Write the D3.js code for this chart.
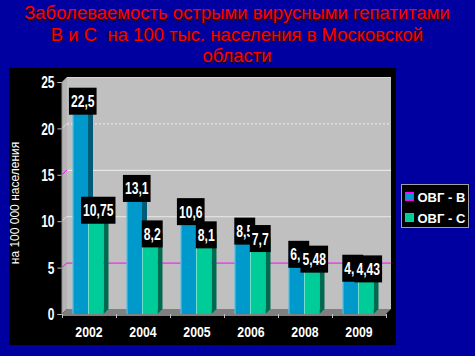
<!DOCTYPE html>
<html>
<head>
<meta charset="utf-8">
<script src="https://cdn.jsdelivr.net/npm/d3@7/dist/d3.min.js"></script>
<style>
  html, body { margin: 0; padding: 0; background: #0000a0; }
  svg { display: block; }
  .title text { white-space: pre; }
</style>
</head>
<body>
<script>
const years = ["2002", "2004", "2005", "2006", "2008", "2009"];
const hepB = [22.5, 13.1, 10.6, 8.5, 6.0, 4.5];
const hepC = [10.75, 8.2, 8.1, 7.7, 5.48, 4.43];
const seriesNames = ["ОВГ - В", "ОВГ - С"];
const yTicks = [0, 5, 10, 15, 20, 25];
const titleLines = [
  "Заболеваемость острыми вирусными гепатитами",
  "В и С  на 100 тыс. населения в Московской",
  "области"
];

const W = 475, H = 356;
const depth = 5;
const colors = { B: "#0099cc", C: "#00cc99", Bside: "#005a78", Cside: "#006a50" };

const svg = d3.select("body")
    .append("svg")
    .attr("width", W)
    .attr("height", H);

// background
svg.append("rect").attr("width", W).attr("height", H).attr("fill", "#0000a0");

// title with shadow
const title = svg.append("g")
    .attr("class", "title")
    .attr("font-family", "Liberation Sans, Arial, sans-serif")
    .attr("font-size", 18.5)
    .attr("text-anchor", "middle");
titleLines.forEach((t, i) => {
    title.append("text").text(t)
        .attr("x", 238.5).attr("y", 20.5 + i * 21.5)
        .attr("fill", "#200020");
    title.append("text").text(t)
        .attr("x", 237).attr("y", 19 + i * 21.5)
        .attr("fill", "#ff0000");
});

// black chart panel
svg.append("rect")
    .attr("x", 9).attr("y", 68)
    .attr("width", 387).attr("height", 277)
    .attr("fill", "#000");

const x = d3.scaleBand().domain(years).range([62, 386]);
const y = d3.scaleLinear().domain([0, 25]).range([314, 82]);

const x0 = x.range()[0], x1 = x.range()[1];
const yTop = y(25), yBot = y(0);

// walls
const walls = svg.append("g");
// back wall
walls.append("rect")
    .attr("x", x0 + depth).attr("y", yTop - depth)
    .attr("width", x1 - x0).attr("height", yBot - yTop)
    .attr("fill", "#c0c0c0");
// left wall
walls.append("path")
    .attr("d", `M${x0},${yTop}L${x0 + depth},${yTop - depth}L${x0 + depth},${yBot - depth}L${x0},${yBot}Z`)
    .attr("fill", "#b4b4b4");
// floor
walls.append("path")
    .attr("d", `M${x0},${yBot}L${x0 + depth},${yBot - depth}L${x1 + depth},${yBot - depth}L${x1},${yBot}Z`)
    .attr("fill", "#808080");

// gridlines on back wall
const gridStyle = {
    5: { stroke: "#ff00ff", dash: null },
    10: { stroke: "#e8e8e8", dash: null },
    15: { stroke: "#f0f0f0", dash: null },
    20: { stroke: "#eeeeee", dash: "2,2" },
    25: { stroke: "#d8d8d8", dash: null }
};
yTicks.filter(t => t > 0).forEach(t => {
    const s = gridStyle[t];
    walls.append("line")
        .attr("x1", x0 + depth).attr("x2", x1 + depth)
        .attr("y1", y(t) - depth + 0.5).attr("y2", y(t) - depth + 0.5)
        .attr("stroke", s.stroke)
        .attr("stroke-dasharray", s.dash);
    walls.append("line")
        .attr("x1", x0).attr("x2", x0 + depth)
        .attr("y1", y(t)).attr("y2", y(t) - depth)
        .attr("stroke", t === 5 || t === 15 || t === 25 ? "#ff00ff" : "#e0e0e0");
});

// y axis
const yAxis = svg.append("g")
    .attr("transform", `translate(${x0 - 0.5},0)`)
    .call(d3.axisLeft(y).tickValues(yTicks).tickSize(4).tickPadding(3));
yAxis.select(".domain").attr("stroke", "#909090");
yAxis.selectAll(".tick line").attr("stroke", "#c0c0c0");
yAxis.selectAll(".tick text")
    .attr("fill", "#fff")
    .attr("font-family", "Liberation Sans, Arial, sans-serif")
    .attr("font-weight", "bold")
    .attr("font-size", 16)
    .attr("text-anchor", "end")
    .attr("x", 0).attr("dy", "0.36em")
    .attr("transform", "translate(-7,0) scale(0.75,1)");

// x axis
const xAxis = svg.append("g")
    .attr("transform", `translate(0,${yBot + 0.5})`)
    .call(d3.axisBottom(x).tickSize(0).tickPadding(0));
xAxis.select(".domain").attr("stroke", "#ffffff");
xAxis.selectAll(".tick text")
    .attr("fill", "#fff")
    .attr("font-family", "Liberation Sans, Arial, sans-serif")
    .attr("font-weight", "bold")
    .attr("font-size", 15)
    .attr("x", 0).attr("y", 0).attr("dy", 0)
    .attr("transform", "translate(0,22.5) scale(0.82,1)");

// category separator ticks
svg.append("g").selectAll("line")
    .data(years.concat(["end"]))
    .enter().append("line")
    .attr("x1", (d, i) => x0 + i * x.bandwidth() + 0.5)
    .attr("x2", (d, i) => x0 + i * x.bandwidth() + 0.5)
    .attr("y1", yBot).attr("y2", yBot + 4)
    .attr("stroke", "#c0c0c0");

// y axis title
svg.append("text")
    .attr("transform", "translate(19,203) rotate(-90)")
    .attr("text-anchor", "middle")
    .attr("font-family", "Liberation Sans, Arial, sans-serif")
    .attr("font-size", 12)
    .attr("fill", "#fff")
    .text("на 100 000 населения");

// bars
const barW = 15.5;
const bars = [];
years.forEach((yr, i) => {
    bars.push({ year: yr, v: hepB[i], x: x(yr) + 10.5, fill: colors.B, side: colors.Bside });
    bars.push({ year: yr, v: hepC[i], x: x(yr) + 10.5 + barW, fill: colors.C, side: colors.Cside });
});

const barG = svg.append("g");
bars.forEach(b => {
    const top = y(b.v);
    barG.append("path")
        .attr("d", `M${b.x + barW},${top}L${b.x + barW + depth},${top - depth}L${b.x + barW + depth},${yBot - depth}L${b.x + barW},${yBot}Z`)
        .attr("fill", b.side);
    barG.append("path")
        .attr("d", `M${b.x},${top}L${b.x + depth},${top - depth}L${b.x + barW + depth},${top - depth}L${b.x + barW},${top}Z`)
        .attr("fill", b.fill);
    barG.append("rect")
        .attr("x", b.x).attr("y", top)
        .attr("width", barW).attr("height", yBot - top)
        .attr("fill", b.fill);
    barG.append("line")
        .attr("x1", b.x + 0.5).attr("x2", b.x + 0.5)
        .attr("y1", top).attr("y2", yBot)
        .attr("stroke", "#dff4ff").attr("stroke-opacity", 0.5);
});

// value labels
const labelVal = v => (Number.isInteger(v) ? v.toFixed(1) : String(v)).replace(".", ",");
const labG = svg.append("g")
    .attr("font-family", "Liberation Sans, Arial, sans-serif")
    .attr("font-weight", "bold")
    .attr("font-size", 16);
bars.forEach(b => {
    const cx = b.x + barW / 2 + 2.5;
    const cy = y(b.v) - 4;
    const g = labG.append("g").attr("transform", `translate(${cx},${cy})`);
    const rect = g.append("rect").attr("fill", "#000");
    const t = g.append("text")
        .text(labelVal(b.v))
        .attr("fill", "#fff")
        .attr("text-anchor", "middle")
        .attr("y", 6)
        .attr("transform", "scale(0.76,1)");
    const w = t.node().getComputedTextLength() * 0.76 + 4;
    rect.attr("x", -w / 2).attr("y", -13.5).attr("width", w).attr("height", 27);
});

// legend
const leg = svg.append("g").attr("transform", "translate(401,184)");
leg.append("rect")
    .attr("x", 0.5).attr("y", 0.5)
    .attr("width", 67).attr("height", 43)
    .attr("fill", "#000").attr("stroke", "#a0a0a0");
[colors.B, colors.C].forEach((c, i) => {
    leg.append("rect")
        .attr("x", 4.5).attr("y", 8.5 + i * 21)
        .attr("width", 8).attr("height", 8)
        .attr("fill", c).attr("stroke", i === 0 ? "#ff00ff" : "#909090");
    leg.append("text")
        .attr("x", 16.5).attr("y", 18 + i * 21)
        .attr("fill", "#fff")
        .attr("font-family", "Liberation Sans, Arial, sans-serif")
        .attr("font-weight", "bold")
        .attr("font-size", 13)
        .text(seriesNames[i]);
});
</script>
</body>
</html>
